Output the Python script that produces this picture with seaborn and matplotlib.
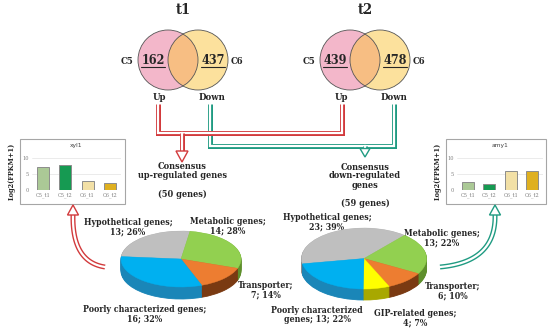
import numpy as np
import matplotlib
matplotlib.use("Agg")
import matplotlib.pyplot as plt
import seaborn as sns
from matplotlib.patches import Circle, Polygon, Rectangle

# ---- data ----
venn_groups = ['C5', 'C6']
venn_t1 = [162, 437]
venn_t2 = [439, 478]

bar_conditions = ['C5_t1', 'C5_t2', 'C6_t1', 'C6_t2']
xyl1_values = [7.2, 7.7, 2.8, 2.3]
amy1_values = [2.6, 1.8, 5.9, 5.9]

up_labels = ['Hypothetical genes', 'Metabolic genes', 'Transporter', 'Poorly characterized genes']
up_counts = [13, 14, 7, 16]
up_pcts = [26, 28, 14, 32]

down_labels = ['Hypothetical genes', 'Metabolic genes', 'Transporter', 'GIP-related genes',
               'Poorly characterized\ngenes']
down_counts = [23, 13, 6, 4, 13]
down_pcts = [39, 22, 10, 7, 22]

W, H = 550, 332
RED = '#d23a3c'
TEAL = '#1f9b82'
SERIF = 'DejaVu Serif'

sns.set_style("white")
plt.rcParams['font.family'] = [SERIF]

fig = plt.figure(figsize=(W / 100, H / 100), dpi=100)
main = fig.add_axes([0, 0, 1, 1])
main.set_xlim(0, W)
main.set_ylim(H, 0)
main.axis('off')


def rect(x0, y0, x1, y1):
    return [x0 / W, 1 - y1 / H, (x1 - x0) / W, (y1 - y0) / H]


def txt(x, y, s, size=6.3, **kw):
    main.text(x, y, s, fontsize=size, fontweight='bold', ha='center', va='center',
              color='#262626', linespacing=1.0, fontstretch='condensed', **kw)


# ---- Venn diagrams ----
def venn(cx, title, counts):
    main.add_patch(Circle((cx - 15, 60), 30, facecolor='#e97197', alpha=0.5, edgecolor='none'))
    main.add_patch(Circle((cx + 15, 60), 30, facecolor='#fbc53d', alpha=0.5, edgecolor='none'))
    for dx in (-15, 15):
        main.add_patch(Circle((cx + dx, 60), 30, facecolor='none', edgecolor='#555555', lw=0.6))
    txt(cx, 10, title, size=10.5)
    txt(cx - 56, 61, venn_groups[0], size=6.8)
    txt(cx + 54, 61, venn_groups[1], size=6.8)
    for dx, n in zip((-30, 30), counts):
        txt(cx + dx, 60, str(n), size=9)
        main.plot([cx + dx - 12, cx + dx + 12], [66.5, 66.5], color='#262626', lw=0.8)
    txt(cx - 24, 98, 'Up', size=6.8)
    txt(cx + 29, 98, 'Down', size=6.8)


venn(183, 't1', venn_t1)
venn(365, 't2', venn_t2)


# ---- connector arrows (double lines) ----
def double_line(xs, ys, color):
    main.plot(xs, ys, color=color, lw=3.6, solid_joinstyle='miter', solid_capstyle='butt')
    main.plot(xs, ys, color='white', lw=1.6, solid_joinstyle='miter', solid_capstyle='projecting')


def hollow_head(x, y, color, half=5, length=9, up=False):
    d = -1 if up else 1
    main.add_patch(Polygon([(x - half, y - d * length), (x + half, y - d * length), (x, y)],
                           closed=True, facecolor='white', edgecolor=color, lw=1.0, zorder=5))


double_line([210, 210, 394, 394], [104, 146, 146, 104], TEAL)
double_line([365, 365], [146, 149], TEAL)
hollow_head(365, 157, TEAL, half=5, length=8.5)

double_line([158, 158, 342, 342], [104, 133, 133, 104], RED)
double_line([182, 182], [133, 151], RED)
hollow_head(182, 162, RED, half=6, length=11)

# curved arrows to the bar insets
t = np.linspace(0, 1, 60)


def curve(p0, p1, p2, color, head):
    xs = (1 - t) ** 2 * p0[0] + 2 * (1 - t) * t * p1[0] + t ** 2 * p2[0]
    ys = (1 - t) ** 2 * p0[1] + 2 * (1 - t) * t * p1[1] + t ** 2 * p2[1]
    double_line(xs, ys, color)
    hollow_head(head[0], head[1], color, half=5.5, length=10, up=True)


curve((105, 267), (72, 262), (73, 215), RED, (73, 205))
curve((440, 267), (496, 262), (495, 215), TEAL, (495, 205))

txt(182, 171, 'Consensus\nup-regulated genes', size=6.6)
txt(182, 194, '(50 genes)', size=6.6)
txt(365, 176, 'Consensus\ndown-regulated\ngenes', size=6.6)
txt(365, 203, '(59 genes)', size=6.6)


# ---- bar insets ----
bar_colors = ['#a9d18e', '#00b050', '#ffe699', '#ffc000']


def bar_inset(box, area, gene, values):
    main.add_patch(Rectangle((box[0], box[1]), box[2] - box[0], box[3] - box[1],
                             facecolor='white', edgecolor='#a6a6a6', lw=0.8))
    ax = fig.add_axes(rect(*area))
    sns.barplot(x=bar_conditions, y=values, hue=bar_conditions, palette=bar_colors,
                legend=False, ax=ax, width=0.55, edgecolor='#8c8c8c', linewidth=0.7)
    ax.set_ylim(0, 10)
    ax.set_yticks([0, 5, 10])
    ax.yaxis.grid(True, color='#e3e3e3', lw=0.5)
    ax.set_axisbelow(True)
    for s in ax.spines.values():
        s.set_visible(False)
    ax.tick_params(axis='both', labelsize=3.6, colors='#7f7f7f', length=0, pad=2)
    ax.set_facecolor('none')
    main.text((box[0] + box[2]) / 2 + 4, box[1] + 7, gene, fontsize=4.3, ha='center',
              va='center', color='#404040', family='DejaVu Sans')
    main.text(box[0] - 8, (box[1] + box[3]) / 2, 'Log2(FPKM+1)', rotation=90, fontsize=4.8,
              fontweight='bold', ha='center', va='center', color='#262626')


bar_inset((20, 139, 125, 204), (32, 157.7, 121, 190), 'xyl1', xyl1_values)
bar_inset((446, 139, 546, 204), (457, 157.7, 543, 190), 'amy1', amy1_values)


# ---- 3D-looking pies ----
def pie3d(cx, cy, rx, ry, depth, counts, tops, sides, start):
    d = depth / ry
    ax = fig.add_axes(rect(cx - rx, cy - ry, cx + rx, cy + ry + depth))
    for k in np.linspace(d, 0.02, 14):
        wedges, _ = ax.pie(counts, colors=sides, startangle=start, counterclock=False,
                           center=(0, -k), wedgeprops=dict(linewidth=0.6))
        for w in wedges:
            w.set_edgecolor(w.get_facecolor())
    wedges, _ = ax.pie(counts, colors=tops, startangle=start, counterclock=False,
                       wedgeprops=dict(linewidth=0.3))
    for w in wedges:
        w.set_edgecolor(w.get_facecolor())
    ax.set_aspect('auto')
    ax.set_xlim(-1.0, 1.0)
    ax.set_ylim(-1 - d, 1.0)
    ax.axis('off')


pie3d(181, 259, 60, 28, 12, up_counts,
      ['#bfbfbf', '#92d050', '#ed7d31', '#00b0f0'],
      ['#8c8c8c', '#5e8f2c', '#7a3a12', '#1a86b8'], 175)
pie3d(364, 258.5, 62.5, 30.5, 11, down_counts,
      ['#bfbfbf', '#92d050', '#ed7d31', '#ffff00', '#00b0f0'],
      ['#8c8c8c', '#5e8f2c', '#7a3a12', '#a8a800', '#1a86b8'], 190)


def pie_label(x, y, name, n, pct):
    sep = ' ' if '\n' in name else '\n'
    txt(x, y, f'{name};{sep}{n}; {pct}%', size=6.3)


up_pos = [(128, 227), (228, 226), (266, 290), (145, 314)]
for (x, y), name, n, p in zip(up_pos, up_labels, up_counts, up_pcts):
    pie_label(x, y, name, n, p)

down_pos = [(327, 222), (442, 238), (453, 291), (415, 318), (317, 315)]
for (x, y), name, n, p in zip(down_pos, down_labels, down_counts, down_pcts):
    pie_label(x, y, name, n, p)

fig.savefig('out.png', dpi=100)
